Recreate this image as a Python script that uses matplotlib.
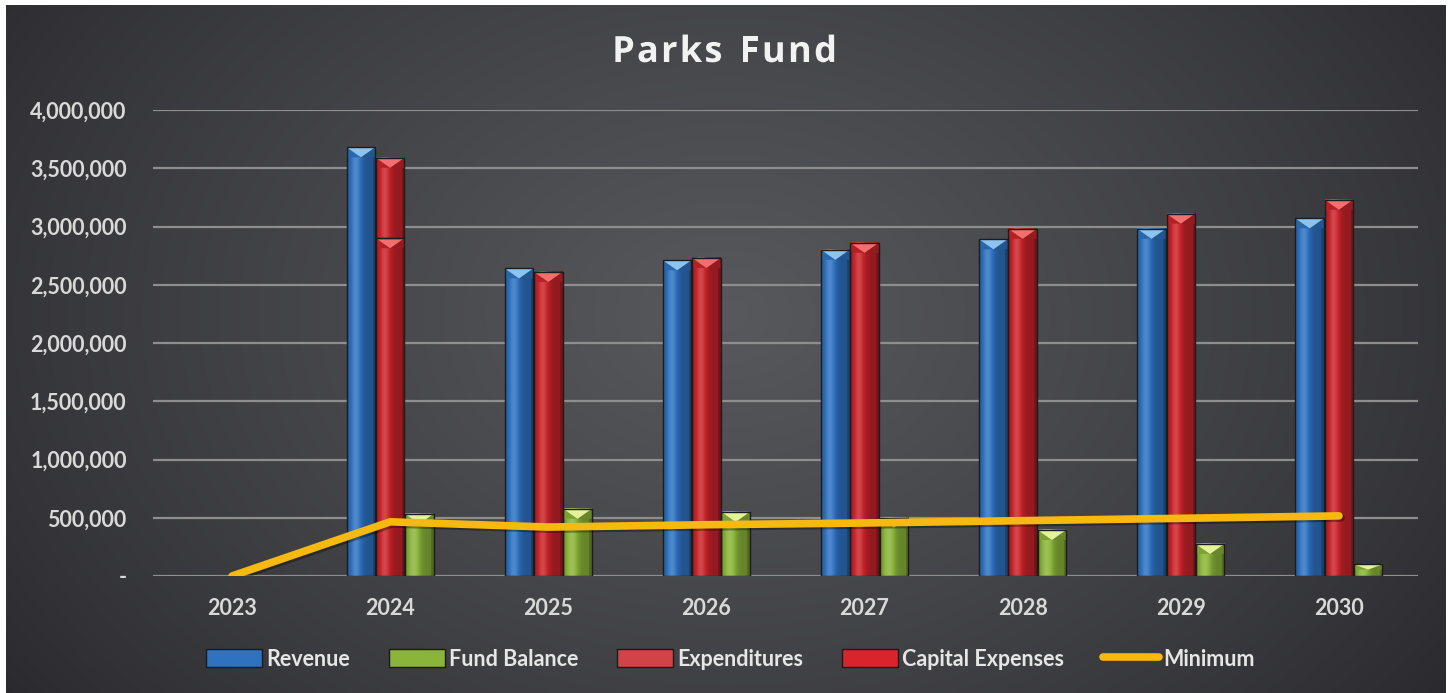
import numpy as np
import matplotlib
matplotlib.use("Agg")
import matplotlib.pyplot as plt
from matplotlib.patches import Polygon, Patch, Rectangle
from matplotlib.lines import Line2D
import matplotlib.patheffects as pe
from matplotlib.ticker import FuncFormatter, MultipleLocator
from matplotlib.colors import to_rgb

# ---------------- data ----------------
years = ['2023', '2024', '2025', '2026', '2027', '2028', '2029', '2030']
revenue = [0, 3680000, 2640000, 2710000, 2800000, 2890000, 2980000, 3070000]
expenditures = [0, 2900000, 2610000, 2730000, 2860000, 2980000, 3110000, 3230000]
capital_expenses = [0, 690000, 0, 0, 0, 0, 0, 0]
fund_balance = [0, 533000, 577000, 550000, 500000, 395000, 275000, 100000]
minimum = [0, 465000, 420000, 440000, 455000, 475000, 495000, 516000]

W, H = 1449, 693
fig = plt.figure(figsize=(W / 100, H / 100), dpi=100, facecolor='white')

# ---------------- background ----------------
bg = fig.add_axes([6 / W, 0, (1446 - 6) / W, (H - 5) / H])
bg.set_axis_off()
ny, nx = 200, 400
yy, xx = np.mgrid[0:1:ny * 1j, 0:1:nx * 1j]
r = np.sqrt(((xx - 0.5) / 0.62) ** 2 + ((yy - 0.45) / 0.95) ** 2)
v = np.clip(1 - r, 0, 1) ** 0.85
dark = np.array(to_rgb('#2a2a2e'))
light = np.array(to_rgb('#58595d'))
img = dark[None, None, :] + (light - dark)[None, None, :] * v[:, :, None]
bg.imshow(img, extent=(0, 1, 0, 1), aspect='auto', interpolation='bilinear')
bg.set_xlim(0, 1)
bg.set_ylim(0, 1)

# ---------------- main axes ----------------
ax = fig.add_axes([153 / W, 1 - 576 / H, (1418 - 153) / W, (576 - 110) / H])
ax.set_facecolor('none')
ax.patch.set_alpha(0)

x = np.arange(len(years))
w = 0.18
off = 0.185
ymax = 4000000
px_per_unit = 466 / ymax
cap_h = 10 / px_per_unit


def shade(c, f):
    c = np.array(to_rgb(c))
    if f >= 1:
        return c + (1 - c) * (f - 1)
    return c * f


def bevel_bar(xc, bottom, h, base, capc):
    if h <= 0:
        return
    n = 40
    t = np.linspace(0, 1, n)
    prof = 0.74 + 0.42 * np.exp(-((t - 0.3) / 0.22) ** 2) - 0.16 * (t > 0.9)
    cols = np.array([shade(base, f) for f in prof])
    cols = np.clip(cols, 0, 1)
    arr = cols[None, :, :]
    x0, x1 = xc - w / 2, xc + w / 2
    ax.imshow(arr, extent=(x0, x1, bottom, bottom + h), aspect='auto',
              interpolation='bilinear', zorder=2)
    ch = min(cap_h, h * 0.45)
    top = bottom + h
    ax.add_patch(Polygon([(x0, top), (x0 + w * 0.5, top - ch), (x0, top - ch)],
                         closed=True, facecolor=shade(base, 0.9), edgecolor='none', zorder=3))
    ax.add_patch(Polygon([(x1, top), (x1 - w * 0.5, top - ch), (x1, top - ch)],
                         closed=True, facecolor=shade(base, 0.75), edgecolor='none', zorder=3))
    ax.add_patch(Polygon([(x0, top), (x1, top), (xc, top - ch)],
                         closed=True, facecolor=capc, edgecolor='none', zorder=3))
    ax.add_patch(Rectangle((x0, bottom), w, h, fill=False,
                           edgecolor='#1c1c1c', lw=1.0, zorder=4))


BLUE, BLUE_L = '#2e72c0', '#8cc4f0'
RED, RED_L = '#c8242a', '#f07070'
GREEN, GREEN_L = '#8ab43a', '#e4f29a'

for i in range(len(years)):
    bevel_bar(x[i] - off, 0, revenue[i], BLUE, BLUE_L)
    bevel_bar(x[i], 0, expenditures[i], RED, RED_L)
    bevel_bar(x[i], expenditures[i], capital_expenses[i], RED, RED_L)
    bevel_bar(x[i] + off, 0, fund_balance[i], GREEN, GREEN_L)

ax.plot(x, minimum, color='#f5b90f', lw=5.5, solid_capstyle='round',
        solid_joinstyle='round', zorder=6,
        path_effects=[pe.SimpleLineShadow(offset=(1.5, -1.5), alpha=0.35), pe.Normal()])

ax.set_xlim(-0.5, 7.5)
ax.set_ylim(0, ymax)
ax.yaxis.set_major_locator(MultipleLocator(500000))
ax.yaxis.set_major_formatter(FuncFormatter(lambda v, p: '-' if v == 0 else f'{v:,.0f}'))
ax.set_xticks(x)
ax.set_xticklabels(years)
ax.grid(axis='y', color='#8e8e8e', lw=1.6, zorder=0)
ax.set_axisbelow(True)
for s in ax.spines.values():
    s.set_visible(False)
ax.tick_params(axis='both', length=0, colors='#d9d9d9')
ax.tick_params(axis='y', pad=19)
ax.tick_params(axis='x', pad=16)
for lab in ax.get_yticklabels() + ax.get_xticklabels():
    lab.set_fontfamily('Lato')
    lab.set_fontweight('bold')
    lab.set_fontsize(15.5)
    lab.set_color('#d9d9d9')

# ---------------- title with letter spacing ----------------
title = 'Parks Fund'
renderer = fig.canvas.get_renderer()
tprops = dict(fontsize=26, fontweight='bold', family='Open Sans', color='#f2f2f2',
              va='center', ha='left',
              path_effects=[pe.withSimplePatchShadow(offset=(1.5, -1.5), alpha=0.5)])
spacing = 2.2  # px between letters
widths = []
for ch in title:
    tt = fig.text(0, 0, ch if ch != ' ' else 'n', **tprops)
    bb = tt.get_window_extent(renderer)
    widths.append(bb.width * (0.55 if ch == ' ' else 1.0))
    tt.remove()
total = sum(widths) + spacing * (len(title) - 1)
xstart = 724.5 - total / 2
cur = xstart
for ch, wd in zip(title, widths):
    if ch != ' ':
        fig.text(cur / W, 1 - 53 / H, ch, **tprops)
    cur += wd + spacing

handles = [
    Patch(facecolor=BLUE, edgecolor='#1a1a1a', label='Revenue'),
    Patch(facecolor=GREEN, edgecolor='#1a1a1a', label='Fund Balance'),
    Patch(facecolor='#d04448', edgecolor='#1a1a1a', label='Expenditures'),
    Patch(facecolor='#d8252b', edgecolor='#1a1a1a', label='Capital Expenses'),
    Line2D([0], [0], color='#f5b90f', lw=5.5, solid_capstyle='round', label='Minimum'),
]
leg = fig.legend(handles=handles, loc='center', bbox_to_anchor=(0.504, 1 - 659 / H),
                 ncol=5, frameon=False, handlelength=2.6, handleheight=0.85,
                 handletextpad=0.2, columnspacing=1.8,
                 prop={'family': 'Lato', 'weight': 'bold', 'size': 15.5})
for t in leg.get_texts():
    t.set_color('#e6e6e6')

fig.savefig('out.png', dpi=100, facecolor=fig.get_facecolor())
